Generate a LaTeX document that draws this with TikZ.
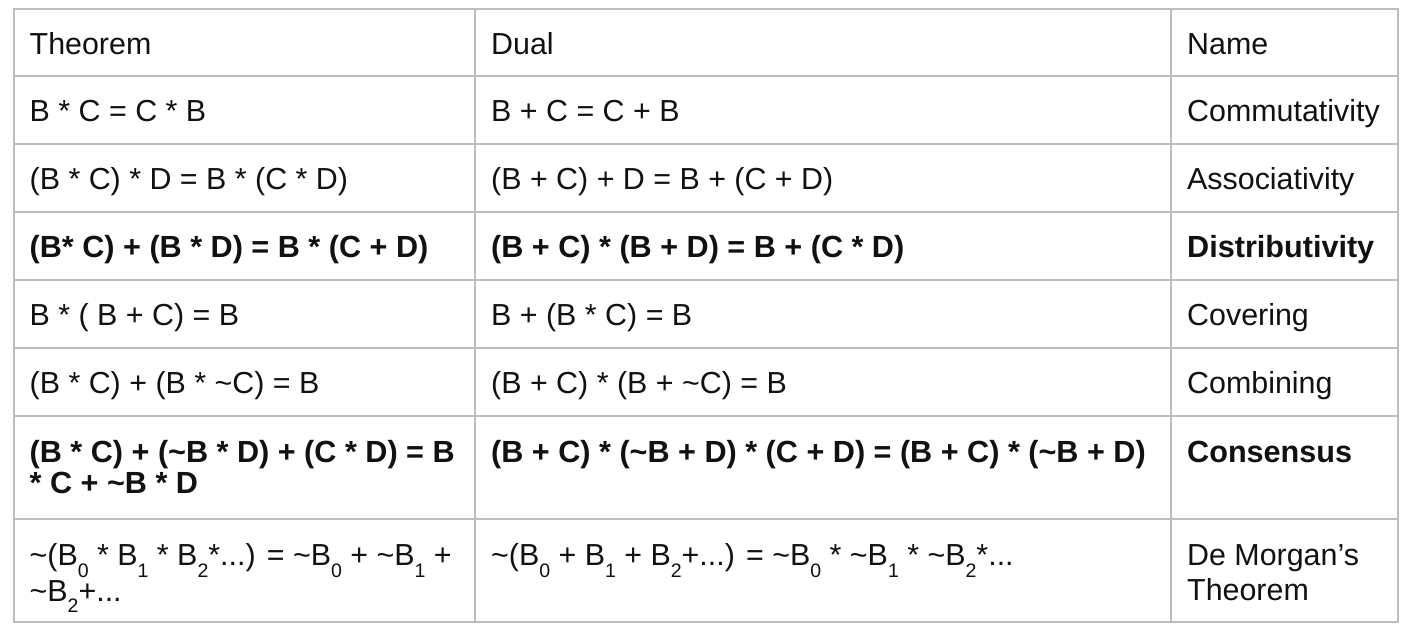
\documentclass[tikz,border=0pt]{standalone}
\usepackage{fontspec}
\setmainfont{Liberation Sans}
\definecolor{gridgray}{HTML}{BDBDBD}
\definecolor{inkblack}{HTML}{111111}
\newcommand\lowd[1]{\raisebox{-11.5pt}{\fontsize{19.5}{20}\selectfont #1}}
\begin{document}
\begin{tikzpicture}[x=1pt,y=-1pt,
  gridline/.style={draw=gridgray,line width=2pt},
  cell/.style={anchor=base west,inner sep=0pt,text=inkblack,font=\fontsize{30.4}{30}\selectfont},
  bcell/.style={cell,font=\fontsize{30.6}{30}\selectfont\bfseries}]
\useasboundingbox (0,0) rectangle (1416,630);
\fill[white] (0,0) rectangle (1416,630);
% grid
\foreach \y in {76,143.5,212,280,348,416,519}
  \draw[gridline] (13.5,\y) -- (1398,\y);
\foreach \x in {474.5,1171}
  \draw[gridline] (\x,8.5) -- (\x,622);
\draw[gridline] (13.5,8.5) rectangle (1398,622);
% header
\node[cell] (h1) at (29.5,54.3) {Theorem};
\node[cell] (h2) at (491,54.3) {Dual};
\node[cell] (h3) at (1187,54.3) {Name};
% row 1
\node[cell] (a1) at (29.5,121.7) {B * C = C * B};
\node[cell] (b1) at (491,121.7) {B + C = C + B};
\node[cell] (c1) at (1187,121.7) {Commutativity};
% row 2
\node[cell] (a2) at (29.5,189.5) {(B * C) * D = B * (C * D)};
\node[cell] (b2) at (491,189.5) {(B + C) + D = B + (C + D)};
\node[cell] (c2) at (1187,189.5) {Associativity};
% row 3
\node[bcell] (a3) at (29.5,257.7) {(B* C) + (B * D) = B * (C + D)};
\node[bcell] (b3) at (491,257.7) {(B + C) * (B + D) = B + (C * D)};
\node[bcell] (c3) at (1187,257.7) {Distributivity};
% row 4
\node[cell] (a4) at (29.5,325.7) {B * ( B + C) = B};
\node[cell] (b4) at (491,325.7) {B + (B * C) = B};
\node[cell] (c4) at (1187,325.7) {Covering};
% row 5
\node[cell] (a5) at (29.5,393.7) {(B * C) + (B * \char`\~C) = B};
\node[cell] (b5) at (491,393.7) {(B + C) * (B + \char`\~C) = B};
\node[cell] (c5) at (1187,393.7) {Combining};
% row 6
\node[bcell] (a6) at (29.5,462.5) {(B * C) + (\char`\~B * D) + (C * D) = B};
\node[bcell] (a6b) at (29.5,493) {* C + \char`\~B * D};
\node[bcell] (b6) at (491,462.5) {(B + C) * (\char`\~B + D) * (C + D) = (B + C) * (\char`\~B + D)};
\node[bcell] (c6) at (1187,462.5) {Consensus};
% row 7
\node[cell] (a7) at (29.5,565.5) {\char`\~(B\lowd{0} * B\lowd{1} * B\lowd{2}*...) = \char`\~B\lowd{0} + \char`\~B\lowd{1} +};
\node[cell] (a7b) at (29.5,601.2) {\char`\~B\lowd{2}+...};
\node[cell] (b7) at (491,565.5) {\char`\~(B\lowd{0} + B\lowd{1} + B\lowd{2}+...) = \char`\~B\lowd{0} * \char`\~B\lowd{1} * \char`\~B\lowd{2}*...};
\node[cell] (c7) at (1187,565.5) {De Morgan’s};
\node[cell] (c7b) at (1187,600.8) {Theorem};
\end{tikzpicture}
\end{document}
